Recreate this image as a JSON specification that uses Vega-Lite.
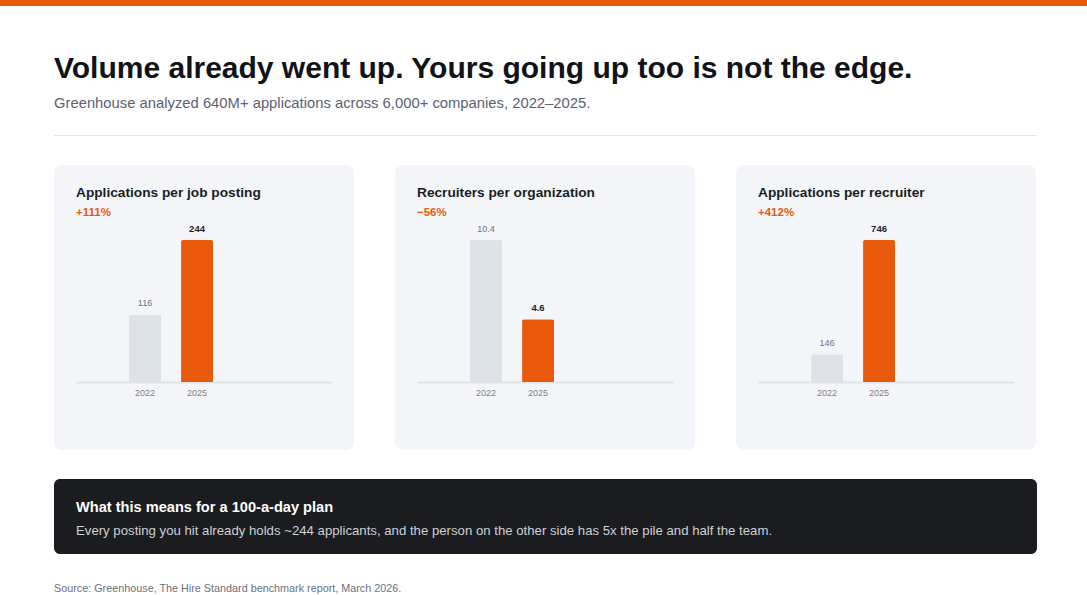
{
  "$schema": "https://vega.github.io/schema/vega-lite/v6.json",
  "padding": 0,
  "background": "white",
  "config": {"view": {"stroke": null}, "font": "Liberation Sans"},
  "datasets": {
    "bars": [
      {"metric": "Applications per job posting", "year": "2022", "value": 116},
      {"metric": "Applications per job posting", "year": "2025", "value": 244},
      {"metric": "Recruiters per organization", "year": "2022", "value": 10.4},
      {"metric": "Recruiters per organization", "year": "2025", "value": 4.6},
      {"metric": "Applications per recruiter", "year": "2022", "value": 146},
      {"metric": "Applications per recruiter", "year": "2025", "value": 746}
    ],
    "empty": []
  },
  "spacing": 48,
  "vconcat": [
    {
      "width": 1087, "height": 6,
      "view": {"fill": "#e8590c", "stroke": null},
      "data": {"name": "empty"},
      "mark": "text", "encoding": {}
    },
    {
      "spacing": 41,
      "hconcat": [
        {"width": 13, "height": 1, "data": {"name": "empty"}, "mark": "text", "encoding": {}},
        {
          "spacing": 29,
          "vconcat": [
            {
              "width": 983, "height": 1,
              "view": {"fill": "#e4e6eb", "stroke": null},
              "data": {"name": "empty"}, "mark": "text", "encoding": {},
              "title": {
                "text": "Volume already went up. Yours going up too is not the edge.",
                "subtitle": "Greenhouse analyzed 640M+ applications across 6,000+ companies, 2022–2025.",
                "anchor": "start", "frame": "group", "offset": 24,
                "fontSize": 30, "fontWeight": "bold", "color": "#111318",
                "subtitleFontSize": 14.8, "subtitleColor": "#5b6170", "subtitlePadding": 12,
                "subtitleFont": "Liberation Sans", "font": "Liberation Sans"
              }
            },
            {
              "spacing": 41,
              "resolve": {"scale": {"x": "independent", "y": "independent"}, "axis": {"x": "independent"}},
              "hconcat": [
                {
                  "width": 300, "height": 285,
                  "view": {"fill": "#f4f5f9", "cornerRadius": 8, "stroke": null},
                  "data": {"name": "bars"},
                  "transform": [{"filter": "datum.metric === 'Applications per job posting'"}],
                  "title": {"text": "Applications per job posting", "subtitle": "+111%", "anchor": "start", "frame": "group", "dx": 22, "offset": -53, "fontSize": 13.7, "fontWeight": "bold", "color": "#1b1d23", "subtitleFontSize": 11.5, "subtitleFontWeight": "bold", "subtitleColor": "#e8590c", "subtitlePadding": 7},
                  "encoding": {
                    "x": {"field": "year", "type": "nominal", "scale": {"domain": ["2022", "2025", " ", "  "], "range": [22, 278], "paddingInner": 0.385, "paddingOuter": 0.654, "align": 0.78}, "axis": {"values": ["2022", "2025"], "title": null, "orient": "bottom", "offset": -68, "domainColor": "#e2e4ea", "domainWidth": 2, "ticks": false, "labelColor": "#7b808c", "labelFontSize": 9, "labelPadding": 6, "labelAngle": 0}},
                    "y": {"field": "value", "type": "quantitative", "scale": {"range": [217, 75], "nice": false, "zero": true}, "axis": null}
                  },
                  "layer": [
                    {"mark": {"type": "bar", "cornerRadiusTopLeft": 2, "cornerRadiusTopRight": 2}, "encoding": {"color": {"field": "year", "type": "nominal", "scale": {"domain": ["2022", "2025"], "range": ["#dde1e8", "#e8590c"]}, "legend": null}}},
                    {"transform": [{"filter": "datum.year === '2022'"}], "mark": {"type": "text", "baseline": "bottom", "dy": -6, "fontSize": 9, "color": "#6b7280"}, "encoding": {"text": {"field": "value", "type": "quantitative", "format": ".3~g"}}},
                    {"transform": [{"filter": "datum.year === '2025'"}], "mark": {"type": "text", "baseline": "bottom", "dy": -6, "fontSize": 9.5, "fontWeight": "bold", "color": "#1f2329"}, "encoding": {"text": {"field": "value", "type": "quantitative", "format": ".3~g"}}}
                  ]
                },
                {
                  "width": 300, "height": 285,
                  "view": {"fill": "#f4f5f9", "cornerRadius": 8, "stroke": null},
                  "data": {"name": "bars"},
                  "transform": [{"filter": "datum.metric === 'Recruiters per organization'"}],
                  "title": {"text": "Recruiters per organization", "subtitle": "−56%", "anchor": "start", "frame": "group", "dx": 22, "offset": -53, "fontSize": 13.7, "fontWeight": "bold", "color": "#1b1d23", "subtitleFontSize": 11.5, "subtitleFontWeight": "bold", "subtitleColor": "#e8590c", "subtitlePadding": 7},
                  "encoding": {
                    "x": {"field": "year", "type": "nominal", "scale": {"domain": ["2022", "2025", " ", "  "], "range": [22, 278], "paddingInner": 0.385, "paddingOuter": 0.654, "align": 0.78}, "axis": {"values": ["2022", "2025"], "title": null, "orient": "bottom", "offset": -68, "domainColor": "#e2e4ea", "domainWidth": 2, "ticks": false, "labelColor": "#7b808c", "labelFontSize": 9, "labelPadding": 6, "labelAngle": 0}},
                    "y": {"field": "value", "type": "quantitative", "scale": {"range": [217, 75], "nice": false, "zero": true}, "axis": null}
                  },
                  "layer": [
                    {"mark": {"type": "bar", "cornerRadiusTopLeft": 2, "cornerRadiusTopRight": 2}, "encoding": {"color": {"field": "year", "type": "nominal", "scale": {"domain": ["2022", "2025"], "range": ["#dde1e8", "#e8590c"]}, "legend": null}}},
                    {"transform": [{"filter": "datum.year === '2022'"}], "mark": {"type": "text", "baseline": "bottom", "dy": -6, "fontSize": 9, "color": "#6b7280"}, "encoding": {"text": {"field": "value", "type": "quantitative", "format": ".3~g"}}},
                    {"transform": [{"filter": "datum.year === '2025'"}], "mark": {"type": "text", "baseline": "bottom", "dy": -6, "fontSize": 9.5, "fontWeight": "bold", "color": "#1f2329"}, "encoding": {"text": {"field": "value", "type": "quantitative", "format": ".3~g"}}}
                  ]
                },
                {
                  "width": 300, "height": 285,
                  "view": {"fill": "#f4f5f9", "cornerRadius": 8, "stroke": null},
                  "data": {"name": "bars"},
                  "transform": [{"filter": "datum.metric === 'Applications per recruiter'"}],
                  "title": {"text": "Applications per recruiter", "subtitle": "+412%", "anchor": "start", "frame": "group", "dx": 22, "offset": -53, "fontSize": 13.7, "fontWeight": "bold", "color": "#1b1d23", "subtitleFontSize": 11.5, "subtitleFontWeight": "bold", "subtitleColor": "#e8590c", "subtitlePadding": 7},
                  "encoding": {
                    "x": {"field": "year", "type": "nominal", "scale": {"domain": ["2022", "2025", " ", "  "], "range": [22, 278], "paddingInner": 0.385, "paddingOuter": 0.654, "align": 0.78}, "axis": {"values": ["2022", "2025"], "title": null, "orient": "bottom", "offset": -68, "domainColor": "#e2e4ea", "domainWidth": 2, "ticks": false, "labelColor": "#7b808c", "labelFontSize": 9, "labelPadding": 6, "labelAngle": 0}},
                    "y": {"field": "value", "type": "quantitative", "scale": {"range": [217, 75], "nice": false, "zero": true}, "axis": null}
                  },
                  "layer": [
                    {"mark": {"type": "bar", "cornerRadiusTopLeft": 2, "cornerRadiusTopRight": 2}, "encoding": {"color": {"field": "year", "type": "nominal", "scale": {"domain": ["2022", "2025"], "range": ["#dde1e8", "#e8590c"]}, "legend": null}}},
                    {"transform": [{"filter": "datum.year === '2022'"}], "mark": {"type": "text", "baseline": "bottom", "dy": -6, "fontSize": 9, "color": "#6b7280"}, "encoding": {"text": {"field": "value", "type": "quantitative", "format": ".3~g"}}},
                    {"transform": [{"filter": "datum.year === '2025'"}], "mark": {"type": "text", "baseline": "bottom", "dy": -6, "fontSize": 9.5, "fontWeight": "bold", "color": "#1f2329"}, "encoding": {"text": {"field": "value", "type": "quantitative", "format": ".3~g"}}}
                  ]
                }
              ]
            },
            {
              "width": 983, "height": 75,
              "view": {"fill": "#1b1c20", "cornerRadius": 6, "stroke": null},
              "data": {"name": "empty"}, "mark": "text", "encoding": {},
              "title": {
                "text": "What this means for a 100-a-day plan",
                "subtitle": "Every posting you hit already holds ~244 applicants, and the person on the other side has 5x the pile and half the team.",
                "anchor": "start", "frame": "group", "dx": 22, "offset": -58,
                "fontSize": 14.6, "fontWeight": "bold", "color": "#ffffff",
                "subtitleFontSize": 13.2, "subtitleColor": "#cdd0d6", "subtitlePadding": 10
              }
            },
            {
              "width": 983, "height": 1,
              "data": {"name": "empty"}, "mark": "text", "encoding": {},
              "title": {
                "text": "Source: Greenhouse, The Hire Standard benchmark report, March 2026.",
                "orient": "bottom", "anchor": "start", "frame": "group", "offset": -3,
                "fontSize": 10.8, "fontWeight": "normal", "color": "#6b7080"
              }
            }
          ]
        }
      ]
    }
  ]
}
